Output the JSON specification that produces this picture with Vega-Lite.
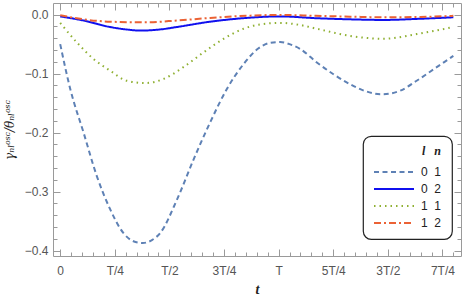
{
  "$schema": "https://vega.github.io/schema/vega-lite/v6.json",
  "width": 408,
  "height": 253,
  "autosize": {"type": "none"},
  "padding": {"left": 53, "top": 3, "right": 2, "bottom": 39},
  "background": "white",
  "config": {
    "view": {"stroke": "#9a9a9a", "strokeWidth": 1},
    "axis": {"grid": false, "domain": false, "tickColor": "#9a9a9a", "labelColor": "#555", "labelFont": "Liberation Sans", "labelFontSize": 12, "titleColor": "#222"},
    "legend": {
      "orient": "none", "legendX": 310, "legendY": 133,
      "strokeColor": "#222", "cornerRadius": 8, "fillColor": "white", "strokeWidth": 1.2,
      "padding": 10,
      "titleFont": "Liberation Serif", "titleFontStyle": "italic", "titleFontWeight": "bold", "titleFontSize": 12, "titleColor": "#222", "titleAnchor": "end", "titlePadding": 3,
      "labelFont": "Liberation Sans", "labelFontSize": 12, "labelColor": "#222", "labelOffset": 16,
      "symbolSize": 400, "symbolStrokeWidth": 2, "symbolType": "M-2,0H2", "symbolOffset": 10, "rowPadding": -1
    }
  },
  "data": {"values": [
    {"t": 0, "v": -0.05, "s": "0\u00a0\u00a01"}, {"t": 0.046, "v": -0.126, "s": "0\u00a0\u00a01"}, {"t": 0.107, "v": -0.2, "s": "0\u00a0\u00a01"}, {"t": 0.168, "v": -0.274, "s": "0\u00a0\u00a01"}, {"t": 0.229, "v": -0.33, "s": "0\u00a0\u00a01"}, {"t": 0.289, "v": -0.37, "s": "0\u00a0\u00a01"}, {"t": 0.335, "v": -0.384, "s": "0\u00a0\u00a01"}, {"t": 0.378, "v": -0.387, "s": "0\u00a0\u00a01"}, {"t": 0.42, "v": -0.382, "s": "0\u00a0\u00a01"}, {"t": 0.458, "v": -0.37, "s": "0\u00a0\u00a01"}, {"t": 0.534, "v": -0.314, "s": "0\u00a0\u00a01"}, {"t": 0.61, "v": -0.246, "s": "0\u00a0\u00a01"}, {"t": 0.686, "v": -0.183, "s": "0\u00a0\u00a01"}, {"t": 0.763, "v": -0.126, "s": "0\u00a0\u00a01"}, {"t": 0.839, "v": -0.084, "s": "0\u00a0\u00a01"}, {"t": 0.908, "v": -0.057, "s": "0\u00a0\u00a01"}, {"t": 0.96, "v": -0.048, "s": "0\u00a0\u00a01"}, {"t": 1.007, "v": -0.0465, "s": "0\u00a0\u00a01"}, {"t": 1.05, "v": -0.05, "s": "0\u00a0\u00a01"}, {"t": 1.098, "v": -0.058, "s": "0\u00a0\u00a01"}, {"t": 1.175, "v": -0.081, "s": "0\u00a0\u00a01"}, {"t": 1.251, "v": -0.101, "s": "0\u00a0\u00a01"}, {"t": 1.327, "v": -0.118, "s": "0\u00a0\u00a01"}, {"t": 1.4, "v": -0.13, "s": "0\u00a0\u00a01"}, {"t": 1.472, "v": -0.135, "s": "0\u00a0\u00a01"}, {"t": 1.556, "v": -0.129, "s": "0\u00a0\u00a01"}, {"t": 1.632, "v": -0.112, "s": "0\u00a0\u00a01"}, {"t": 1.724, "v": -0.089, "s": "0\u00a0\u00a01"}, {"t": 1.8, "v": -0.07, "s": "0\u00a0\u00a01"},
    {"t": 0, "v": -0.003, "s": "0\u00a0\u00a02"}, {"t": 0.107, "v": -0.01, "s": "0\u00a0\u00a02"}, {"t": 0.229, "v": -0.021, "s": "0\u00a0\u00a02"}, {"t": 0.3, "v": -0.025, "s": "0\u00a0\u00a02"}, {"t": 0.37, "v": -0.027, "s": "0\u00a0\u00a02"}, {"t": 0.46, "v": -0.025, "s": "0\u00a0\u00a02"}, {"t": 0.534, "v": -0.021, "s": "0\u00a0\u00a02"}, {"t": 0.686, "v": -0.012, "s": "0\u00a0\u00a02"}, {"t": 0.839, "v": -0.006, "s": "0\u00a0\u00a02"}, {"t": 1.007, "v": -0.003, "s": "0\u00a0\u00a02"}, {"t": 1.17, "v": -0.006, "s": "0\u00a0\u00a02"}, {"t": 1.327, "v": -0.008, "s": "0\u00a0\u00a02"}, {"t": 1.48, "v": -0.009, "s": "0\u00a0\u00a02"}, {"t": 1.65, "v": -0.007, "s": "0\u00a0\u00a02"}, {"t": 1.8, "v": -0.0045, "s": "0\u00a0\u00a02"},
    {"t": 0, "v": -0.014, "s": "1\u00a0\u00a01"}, {"t": 0.076, "v": -0.047, "s": "1\u00a0\u00a01"}, {"t": 0.152, "v": -0.075, "s": "1\u00a0\u00a01"}, {"t": 0.229, "v": -0.095, "s": "1\u00a0\u00a01"}, {"t": 0.305, "v": -0.112, "s": "1\u00a0\u00a01"}, {"t": 0.389, "v": -0.116, "s": "1\u00a0\u00a01"}, {"t": 0.473, "v": -0.109, "s": "1\u00a0\u00a01"}, {"t": 0.564, "v": -0.089, "s": "1\u00a0\u00a01"}, {"t": 0.656, "v": -0.064, "s": "1\u00a0\u00a01"}, {"t": 0.748, "v": -0.041, "s": "1\u00a0\u00a01"}, {"t": 0.839, "v": -0.024, "s": "1\u00a0\u00a01"}, {"t": 0.908, "v": -0.017, "s": "1\u00a0\u00a01"}, {"t": 1.007, "v": -0.014, "s": "1\u00a0\u00a01"}, {"t": 1.09, "v": -0.017, "s": "1\u00a0\u00a01"}, {"t": 1.175, "v": -0.024, "s": "1\u00a0\u00a01"}, {"t": 1.327, "v": -0.036, "s": "1\u00a0\u00a01"}, {"t": 1.48, "v": -0.041, "s": "1\u00a0\u00a01"}, {"t": 1.632, "v": -0.033, "s": "1\u00a0\u00a01"}, {"t": 1.8, "v": -0.021, "s": "1\u00a0\u00a01"},
    {"t": 0, "v": -0.001, "s": "1\u00a0\u00a02"}, {"t": 0.107, "v": -0.008, "s": "1\u00a0\u00a02"}, {"t": 0.229, "v": -0.012, "s": "1\u00a0\u00a02"}, {"t": 0.389, "v": -0.013, "s": "1\u00a0\u00a02"}, {"t": 0.534, "v": -0.01, "s": "1\u00a0\u00a02"}, {"t": 0.686, "v": -0.0056, "s": "1\u00a0\u00a02"}, {"t": 0.87, "v": -0.0017, "s": "1\u00a0\u00a02"}, {"t": 1.007, "v": -0.0005, "s": "1\u00a0\u00a02"}, {"t": 1.17, "v": -0.002, "s": "1\u00a0\u00a02"}, {"t": 1.327, "v": -0.0034, "s": "1\u00a0\u00a02"}, {"t": 1.48, "v": -0.0045, "s": "1\u00a0\u00a02"}, {"t": 1.65, "v": -0.004, "s": "1\u00a0\u00a02"}, {"t": 1.8, "v": -0.002, "s": "1\u00a0\u00a02"}
  ]},
  "resolve": {"axis": {"x": "independent", "y": "independent"}},
  "layer": [
    {
      "mark": {"type": "line", "strokeWidth": 2, "interpolate": "monotone"},
      "encoding": {
        "x": {"field": "t", "type": "quantitative", "scale": {"domain": [-0.033, 1.835], "nice": false, "zero": false},
          "axis": {"orient": "bottom", "values": [0, 0.25, 0.5, 0.75, 1, 1.25, 1.5, 1.75], "ticks": false, "labelPadding": 9,
            "labelExpr": "datum.value == 0 ? '0' : datum.value == 0.25 ? 'T/4' : datum.value == 0.5 ? 'T/2' : datum.value == 0.75 ? '3T/4' : datum.value == 1 ? 'T' : datum.value == 1.25 ? '5T/4' : datum.value == 1.5 ? '3T/2' : '7T/4'",
            "title": "t", "titleFont": "Liberation Serif", "titleFontStyle": "italic", "titleFontWeight": "bold", "titleFontSize": 14, "titlePadding": 6}},
        "y": {"field": "v", "type": "quantitative", "scale": {"domain": [-0.409, 0.0197], "nice": false, "zero": false},
          "axis": {"orient": "left", "values": [0, -0.1, -0.2, -0.3, -0.4], "format": ".1f", "ticks": false, "labelPadding": 5,
            "title": "γₙₗᵒˢᶜ/θₙₗᵒˢᶜ", "titleFont": "DejaVu Serif", "titleFontStyle": "italic", "titleFontWeight": "normal", "titleFontSize": 12, "titlePadding": 8}},
        "color": {"field": "s", "type": "nominal", "title": "l\u00a0\u00a0\u00a0n",
          "scale": {"domain": ["0\u00a0\u00a01", "0\u00a0\u00a02", "1\u00a0\u00a01", "1\u00a0\u00a02"], "range": ["#5E81B5", "#1010EE", "#8FB032", "#EB6235"]}},
        "strokeDash": {"field": "s", "type": "nominal", "title": "l\u00a0\u00a0\u00a0n",
          "scale": {"domain": ["0\u00a0\u00a01", "0\u00a0\u00a02", "1\u00a0\u00a01", "1\u00a0\u00a02"], "range": [[5, 3.5], [1, 0], [1.5, 4], [7, 3, 2, 3]]}}
      }
    },
    {
      "mark": {"type": "point", "opacity": 0},
      "encoding": {
        "x": {"field": "t", "type": "quantitative", "axis": {"orient": "bottom", "values": [0, 0.25, 0.5, 0.75, 1, 1.25, 1.5, 1.75], "labels": false, "tickSize": -7, "title": null}},
        "y": {"field": "v", "type": "quantitative", "axis": {"orient": "left", "values": [0, -0.1, -0.2, -0.3, -0.4], "labels": false, "tickSize": -7, "title": null}}
      }
    },
    {
      "mark": {"type": "point", "opacity": 0},
      "encoding": {
        "x": {"field": "t", "type": "quantitative", "axis": {"orient": "bottom", "values": [0.05, 0.1, 0.15, 0.2, 0.3, 0.35, 0.4, 0.45, 0.55, 0.6, 0.65, 0.7, 0.8, 0.85, 0.9, 0.95, 1.05, 1.1, 1.15, 1.2, 1.3, 1.35, 1.4, 1.45, 1.55, 1.6, 1.65, 1.7, 1.8], "labels": false, "tickSize": -4, "title": null}},
        "y": {"field": "v", "type": "quantitative", "axis": {"orient": "left", "values": [-0.02, -0.04, -0.06, -0.08, -0.12, -0.14, -0.16, -0.18, -0.22, -0.24, -0.26, -0.28, -0.32, -0.34, -0.36, -0.38], "labels": false, "tickSize": -4, "title": null}}
      }
    },
    {
      "mark": {"type": "point", "opacity": 0},
      "encoding": {
        "x": {"field": "t", "type": "quantitative", "axis": {"orient": "top", "values": [0, 0.25, 0.5, 0.75, 1, 1.25, 1.5, 1.75], "labels": false, "tickSize": -7, "title": null}},
        "y": {"field": "v", "type": "quantitative", "axis": {"orient": "right", "values": [0, -0.1, -0.2, -0.3, -0.4], "labels": false, "tickSize": -7, "title": null}}
      }
    },
    {
      "mark": {"type": "point", "opacity": 0},
      "encoding": {
        "x": {"field": "t", "type": "quantitative", "axis": {"orient": "top", "values": [0.05, 0.1, 0.15, 0.2, 0.3, 0.35, 0.4, 0.45, 0.55, 0.6, 0.65, 0.7, 0.8, 0.85, 0.9, 0.95, 1.05, 1.1, 1.15, 1.2, 1.3, 1.35, 1.4, 1.45, 1.55, 1.6, 1.65, 1.7, 1.8], "labels": false, "tickSize": -4, "title": null}},
        "y": {"field": "v", "type": "quantitative", "axis": {"orient": "right", "values": [-0.02, -0.04, -0.06, -0.08, -0.12, -0.14, -0.16, -0.18, -0.22, -0.24, -0.26, -0.28, -0.32, -0.34, -0.36, -0.38], "labels": false, "tickSize": -4, "title": null}}
      }
    }
  ]
}
